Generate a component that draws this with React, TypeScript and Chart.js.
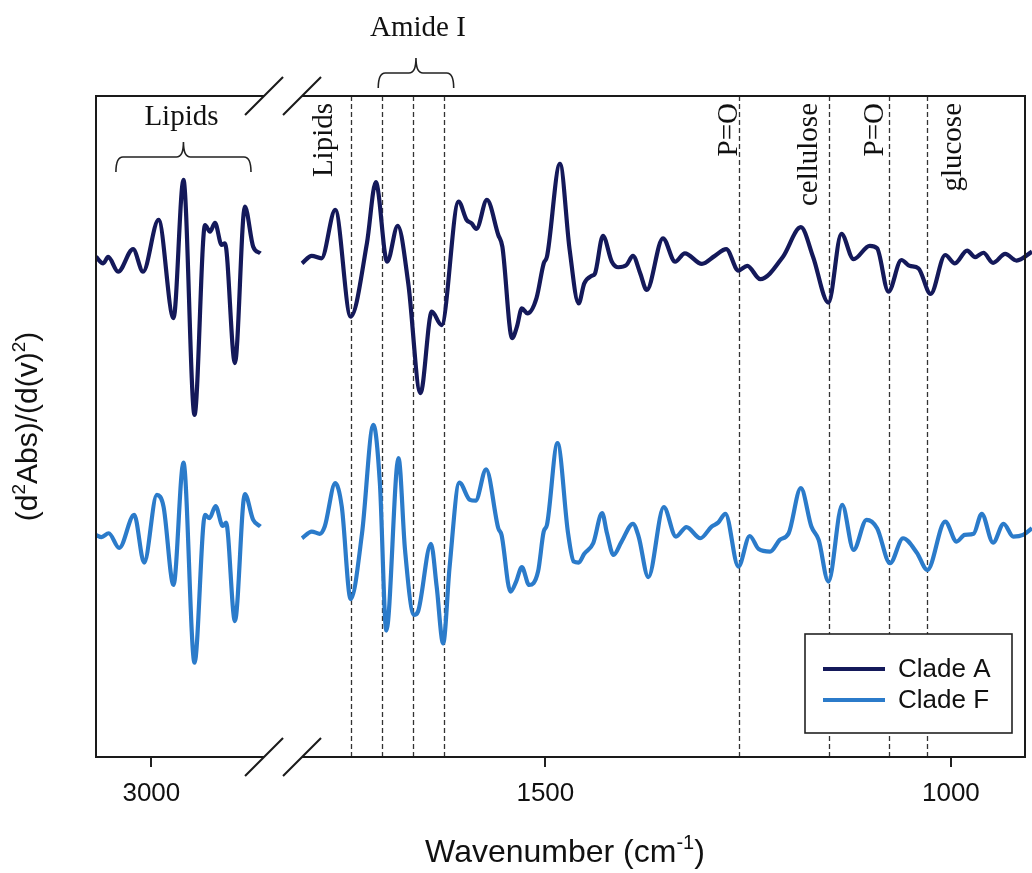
import React, { useEffect, useRef } from 'react';
import { Chart, registerables, LinearScale } from 'chart.js';

Chart.register(...registerables);

// ---------------- data ----------------
const X_TICKS = [3000, 1500, 1000];
const LIPID_WINDOW = [3100, 2800];
const FINGERPRINT_WINDOW = [1800, 900];

const CLADE_A_OFFSET = 10;
const CLADE_F_OFFSET = 0;

const A_LIPID_WN = [3100, 3087, 3078, 3060, 3033, 3015, 2987, 2960, 2942, 2922, 2903, 2894, 2885, 2873, 2867, 2849, 2831, 2816, 2803];
const A_LIPID = [0.0, -0.23, 0.0, -0.53, 0.28, -0.53, 1.33, -2.2, 2.77, -5.68, 1.15, 0.91, 1.23, 0.43, 0.49, -3.82, 1.81, 0.37, 0.13];

const F_LIPID_WN = [3100, 3090, 3077, 3058, 3031, 3013, 2990, 2978, 2960, 2942, 2922, 2903, 2895, 2884, 2871, 2865, 2849, 2831, 2816, 2803];
const F_LIPID = [0, -0.08, 0.06, -0.47, 0.72, -1.0, 1.44, 1.02, -1.8, 2.6, -4.6, 0.72, 0.6, 1.04, 0.32, 0.44, -3.1, 1.47, 0.54, 0.3];

const A_FP_WN = [1800, 1788, 1776, 1759, 1740, 1720, 1709, 1695, 1682, 1669, 1654, 1640, 1628, 1607, 1597, 1591, 1585, 1572, 1558, 1553, 1541, 1535, 1529, 1522, 1511, 1502, 1498, 1482, 1470, 1459, 1452, 1443, 1439, 1429, 1418, 1410, 1400, 1392, 1383, 1375, 1355, 1340, 1328, 1307, 1291, 1277, 1262, 1251, 1235, 1207, 1185, 1170, 1151, 1135, 1120, 1100, 1091, 1077, 1061, 1051, 1040, 1025, 1007, 995, 980, 970, 960, 948, 933, 919, 900];
const A_FP = [-0.23, 0.04, -0.05, 1.69, -2.15, 0.49, 2.69, -0.17, 1.12, -0.95, -4.9, -1.97, -2.45, 1.99, 1.33, 1.21, 1.01, 2.05, 0.79, 0.37, -2.92, -2.51, -1.85, -2.03, -1.49, -0.23, 0.01, 3.35, 0.25, -1.67, -0.95, -0.68, -0.61, 0.76, -0.17, -0.37, -0.29, 0.04, -0.59, -1.19, 0.67, -0.17, 0.13, -0.25, 0.04, 0.28, -0.49, -0.32, -0.8, 0.01, 1.07, 0.01, -1.64, 0.83, -0.08, 0.4, 0.31, -1.25, -0.11, -0.32, -0.41, -1.33, 0.07, -0.23, 0.23, -0.01, 0.15, -0.21, 0.11, -0.13, 0.19];

const F_FP_WN = [1800, 1788, 1778, 1772, 1759, 1751, 1740, 1726, 1712, 1704, 1696, 1681, 1673, 1662, 1657, 1641, 1634, 1626, 1618, 1606, 1593, 1586, 1573, 1558, 1554, 1543, 1536, 1529, 1520, 1509, 1502, 1498, 1485, 1472, 1465, 1459, 1452, 1441, 1430, 1424, 1416, 1406, 1392, 1385, 1373, 1354, 1339, 1326, 1309, 1295, 1287, 1278, 1262, 1248, 1237, 1223, 1211, 1200, 1185, 1172, 1163, 1151, 1134, 1120, 1104, 1091, 1075, 1059, 1042, 1029, 1007, 993, 983, 972, 962, 948, 935, 923, 911, 900];
const F_FP = [-0.12, 0.12, 0.04, 0.3, 1.86, 1.02, -2.31, 0.06, 3.96, 1.86, -3.44, 2.76, -0.54, -2.88, -2.76, -0.32, -1.86, -3.9, -1.14, 1.88, 1.26, 1.23, 2.36, 0.24, 0, -2.04, -1.68, -1.16, -1.8, -1.32, 0.12, 0.36, 3.3, 0.06, -0.96, -1.0, -0.68, -0.3, 0.78, 0.06, -0.72, -0.24, 0.4, -0.06, -1.52, 1.0, -0.06, 0.28, -0.12, 0.3, 0.44, 0.76, -1.14, -0.04, -0.51, -0.6, -0.18, 0.06, 1.68, 0.3, -0.18, -1.68, 1.08, -0.54, 0.54, 0.24, -1.02, -0.12, -0.64, -1.26, 0.48, -0.24, 0, 0.04, 0.76, -0.28, 0.4, -0.06, 0, 0.24];

// band markers (dashed lines) and annotations
const MARKER_WN = [1740, 1701, 1663, 1625, 1261, 1150, 1076, 1030];
const VERTICAL_LABELS = [
  { text: 'Lipids', wn: 1763 },
  { text: 'P=O', wn: 1264 },
  { text: 'cellulose', wn: 1165 },
  { text: 'P=O', wn: 1084 },
  { text: 'glucose', wn: 988 },
];
const LIPID_BRACE = { from: 3064, to: 2820, text: 'Lipids' };
const AMIDE_BRACE = { from: 1706, to: 1613, text: 'Amide I' };

const Y_MIN = -7.99;
const Y_MAX = 15.79;

const COLOR_A = '#14195a';
const COLOR_F = '#2b7bca';

const SANS = '"Liberation Sans", Arial, Helvetica, sans-serif';
const SERIF = '"Liberation Serif", "Times New Roman", Times, serif';

// fraction of axis width occupied by each window
const LIPID_FRAC = [0, 0.1774];
const FP_FRAC = [0.2201, 1.0];
const BREAK_MID = 2300;

// ---------------- broken axis scale ----------------
class BrokenLinearScale extends (LinearScale as any) {
  static id = 'brokenLinear';
  static defaults = {};

  getPixelForValue(value: any) {
    if (value === null || value === undefined || isNaN(value)) return NaN;
    const L = (this as any).left;
    const W = (this as any).right - L;
    let win: number[], frac: number[];
    if (value >= BREAK_MID) { win = LIPID_WINDOW; frac = LIPID_FRAC; } else { win = FINGERPRINT_WINDOW; frac = FP_FRAC; }
    const t = (win[0] - value) / (win[0] - win[1]);
    return L + W * (frac[0] + t * (frac[1] - frac[0]));
  }

  getValueForPixel(pixel: number) {
    const L = (this as any).left;
    const W = (this as any).right - L;
    const f = (pixel - L) / W;
    const mid = (LIPID_FRAC[1] + FP_FRAC[0]) / 2;
    let win: number[], frac: number[];
    if (f <= mid) { win = LIPID_WINDOW; frac = LIPID_FRAC; } else { win = FINGERPRINT_WINDOW; frac = FP_FRAC; }
    const t = (f - frac[0]) / (frac[1] - frac[0]);
    return win[0] - t * (win[0] - win[1]);
  }

  buildTicks() {
    (LinearScale as any).prototype.buildTicks.call(this);
    return X_TICKS.map((v) => ({ value: v }));
  }
}
Chart.register(BrokenLinearScale as any);

function buildSeries(wnL: number[], vL: number[], wnR: number[], vR: number[], offset: number) {
  const pts: any[] = [];
  wnL.forEach((w, i) => pts.push({ x: w, y: vL[i] + offset }));
  pts.push({ x: BREAK_MID, y: null });
  wnR.forEach((w, i) => pts.push({ x: w, y: vR[i] + offset }));
  return pts;
}

// ---------------- drawing helpers ----------------
type Part = { t: string; sup?: boolean };
function richWidth(ctx: CanvasRenderingContext2D, parts: Part[], size: number) {
  let w = 0;
  parts.forEach((p) => {
    ctx.font = `${p.sup ? Math.round(size * 0.62) : size}px ${SANS}`;
    w += ctx.measureText(p.t).width;
  });
  return w;
}
function drawRich(ctx: CanvasRenderingContext2D, parts: Part[], cx: number, y: number, size: number) {
  const total = richWidth(ctx, parts, size);
  let x = cx - total / 2;
  ctx.textAlign = 'left';
  ctx.textBaseline = 'alphabetic';
  parts.forEach((p) => {
    const s = p.sup ? Math.round(size * 0.62) : size;
    ctx.font = `${s}px ${SANS}`;
    ctx.fillText(p.t, x, p.sup ? y - size * 0.4 : y);
    x += ctx.measureText(p.t).width;
  });
}
function drawBrace(ctx: CanvasRenderingContext2D, x0: number, x1: number, yTip: number, yMid: number, yEnd: number) {
  const xc = (x0 + x1) / 2;
  const r = 7;
  ctx.beginPath();
  ctx.moveTo(x0, yEnd);
  ctx.quadraticCurveTo(x0, yMid, x0 + r, yMid);
  ctx.lineTo(xc - r, yMid);
  ctx.quadraticCurveTo(xc, yMid, xc, yTip);
  ctx.quadraticCurveTo(xc, yMid, xc + r, yMid);
  ctx.lineTo(x1 - r, yMid);
  ctx.quadraticCurveTo(x1, yMid, x1, yEnd);
  ctx.stroke();
}

const overlayPlugin = {
  id: 'spectraOverlay',
  beforeDatasetsDraw(chart: any) {
    const ctx: CanvasRenderingContext2D = chart.ctx;
    const xs = chart.scales.x;
    const { top, bottom } = chart.chartArea;
    ctx.save();
    ctx.strokeStyle = '#333';
    ctx.lineWidth = 1.3;
    ctx.setLineDash([5, 3]);
    MARKER_WN.forEach((wn) => {
      const x = Math.round(xs.getPixelForValue(wn)) + 0.5;
      ctx.beginPath();
      ctx.moveTo(x, top);
      ctx.lineTo(x, bottom);
      ctx.stroke();
    });
    ctx.restore();
  },
  afterDraw(chart: any) {
    const ctx: CanvasRenderingContext2D = chart.ctx;
    const xs = chart.scales.x;
    const { top, bottom, left, right } = chart.chartArea;
    const px = (v: number) => xs.getPixelForValue(v);
    ctx.save();

    // frame with axis break
    const brk1 = px(LIPID_WINDOW[1]) + 2;
    const brk2 = px(FINGERPRINT_WINDOW[0]);
    const frameRight = right - 7;
    ctx.strokeStyle = '#1a1a1a';
    ctx.lineWidth = 2;
    ctx.beginPath();
    ctx.moveTo(brk1, top); ctx.lineTo(left, top); ctx.lineTo(left, bottom); ctx.lineTo(brk1, bottom);
    ctx.moveTo(brk2, top); ctx.lineTo(frameRight, top); ctx.lineTo(frameRight, bottom); ctx.lineTo(brk2, bottom);
    ctx.stroke();
    // break slashes
    ctx.lineWidth = 2;
    [top, bottom].forEach((yy) => {
      [brk1, brk2].forEach((xx) => {
        ctx.beginPath();
        ctx.moveTo(xx - 19, yy + 19);
        ctx.lineTo(xx + 19, yy - 19);
        ctx.stroke();
      });
    });

    // braces and their labels
    ctx.strokeStyle = '#222';
    ctx.lineWidth = 1.6;
    drawBrace(ctx, px(LIPID_BRACE.from), px(LIPID_BRACE.to), top + 46, top + 61, top + 76);
    drawBrace(ctx, px(AMIDE_BRACE.from), px(AMIDE_BRACE.to), top - 38, top - 23, top - 8);
    ctx.fillStyle = '#111';
    ctx.font = `29px ${SERIF}`;
    ctx.textAlign = 'center';
    ctx.textBaseline = 'alphabetic';
    ctx.fillText(LIPID_BRACE.text, (px(LIPID_BRACE.from) + px(LIPID_BRACE.to)) / 2 - 2, top + 29);
    ctx.fillText(AMIDE_BRACE.text, (px(AMIDE_BRACE.from) + px(AMIDE_BRACE.to)) / 2 + 2, top - 60);

    // vertical band labels
    VERTICAL_LABELS.forEach((lab) => {
      ctx.save();
      ctx.translate(px(lab.wn), top + 7);
      ctx.rotate(-Math.PI / 2);
      ctx.textAlign = 'right';
      ctx.textBaseline = 'alphabetic';
      ctx.font = `29px ${SERIF}`;
      ctx.fillText(lab.text, 0, 0);
      ctx.restore();
    });

    // axis titles
    ctx.fillStyle = '#111';
    drawRich(ctx, [{ t: 'Wavenumber (cm' }, { t: '-1', sup: true }, { t: ')' }], (left + right) / 2 + 1, 862, 32);
    ctx.save();
    ctx.translate(37, (top + bottom) / 2);
    ctx.rotate(-Math.PI / 2);
    drawRich(ctx, [{ t: '(d' }, { t: '2', sup: true }, { t: 'Abs)/(d(v)' }, { t: '2', sup: true }, { t: ')' }], 0, 0, 30);
    ctx.restore();

    // legend
    const bx = 805, by = 634, bw = 207, bh = 99;
    ctx.fillStyle = '#fff';
    ctx.fillRect(bx, by, bw, bh);
    ctx.strokeStyle = '#222';
    ctx.lineWidth = 1.6;
    ctx.strokeRect(bx, by, bw, bh);
    chart.data.datasets.forEach((ds: any, i: number) => {
      const y = by + 35 + i * 31;
      ctx.strokeStyle = ds.borderColor;
      ctx.lineWidth = 4;
      ctx.beginPath();
      ctx.moveTo(bx + 18, y);
      ctx.lineTo(bx + 80, y);
      ctx.stroke();
      ctx.fillStyle = '#111';
      ctx.font = `26px ${SANS}`;
      ctx.textAlign = 'left';
      ctx.textBaseline = 'middle';
      ctx.fillText(ds.label, bx + 93, y + 1);
    });
    ctx.restore();
  },
};

export default function App() {
  const ref = useRef<HTMLCanvasElement | null>(null);
  useEffect(() => {
    if (!ref.current) return;
    const chart = new Chart(ref.current, {
      type: 'line',
      data: {
        datasets: [
          {
            label: 'Clade A',
            data: buildSeries(A_LIPID_WN, A_LIPID, A_FP_WN, A_FP, CLADE_A_OFFSET),
            borderColor: COLOR_A,
            borderWidth: 4.2,
            pointRadius: 0,
            fill: false,
            spanGaps: false,
            cubicInterpolationMode: 'monotone',
          },
          {
            label: 'Clade F',
            data: buildSeries(F_LIPID_WN, F_LIPID, F_FP_WN, F_FP, CLADE_F_OFFSET),
            borderColor: COLOR_F,
            borderWidth: 4.2,
            pointRadius: 0,
            fill: false,
            spanGaps: false,
            cubicInterpolationMode: 'monotone',
          },
        ] as any,
      },
      options: {
        responsive: false,
        animation: false,
        devicePixelRatio: 1,
        layout: { padding: { left: 96, top: 96, right: 0, bottom: 0 } },
        plugins: { legend: { display: false }, tooltip: { enabled: false } },
        scales: {
          x: {
            type: 'brokenLinear' as any,
            min: 900,
            max: 3100,
            position: 'bottom',
            grid: { display: true, drawOnChartArea: false, drawTicks: true, tickLength: 10, color: '#222', lineWidth: 2 },
            border: { display: false },
            ticks: {
              color: '#111',
              font: { family: SANS, size: 26 },
              padding: 11,
              maxRotation: 0,
              autoSkip: false,
              callback: (v: any) => String(v),
            },
            afterFit: (s: any) => { s.height = 116; },
          } as any,
          y: { type: 'linear', display: false, min: Y_MIN, max: Y_MAX },
        },
      },
      plugins: [overlayPlugin as any],
    });
    return () => chart.destroy();
  }, []);
  return (
    <div style={{ position: 'absolute', left: 0, top: 0, width: 1032, height: 873, background: '#fff' }}>
      <canvas ref={ref} width={1032} height={873} style={{ display: 'block' }} />
    </div>
  );
}
